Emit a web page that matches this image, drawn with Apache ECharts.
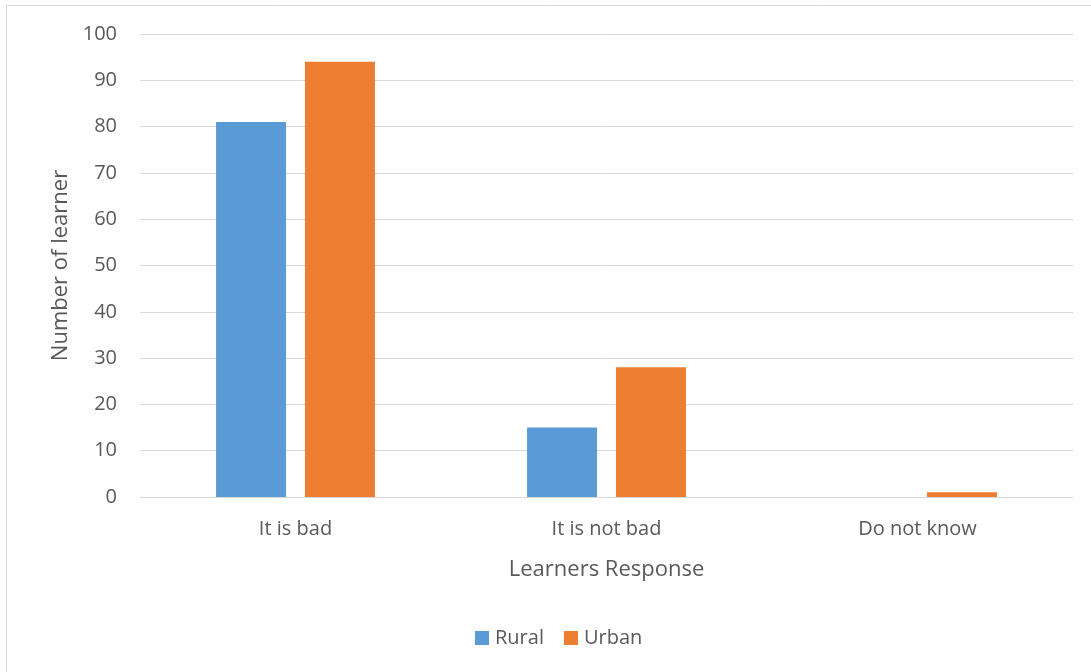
<!DOCTYPE html>
<html>
<head>
<meta charset="utf-8">
<script src="https://cdn.jsdelivr.net/npm/echarts@6/dist/echarts.min.js"></script>
<style>
  html, body { margin: 0; padding: 0; background: #ffffff; }
  #chart { width: 1091px; height: 672px; }
</style>
</head>
<body>
<div id="chart"></div>
<script>
// Learners' responses by school location
const categories = ['It is bad', 'It is not bad', 'Do not know'];
const rural = [81, 15, 0];
const urban = [94, 28, 1];
const yTicks = [0, 100, 10]; // min, max, interval

const textColor = '#595959';
const fontFamily = '"Open Sans", "Liberation Sans", sans-serif';

const chart = echarts.init(document.getElementById('chart'));
chart.setOption({
  animation: false,
  backgroundColor: '#ffffff',
  textStyle: { fontFamily: fontFamily, color: textColor },
  graphic: [{
    type: 'rect',
    shape: { x: 6.5, y: 5.5, width: 1200, height: 800 },
    style: { fill: 'none', stroke: '#d9d9d9', lineWidth: 1 },
    silent: true
  }],
  grid: { left: 140, right: 18, top: 34, bottom: 175, containLabel: false },
  legend: {
    data: ['Rural', 'Urban'],
    top: 623,
    left: 470,
    itemWidth: 14,
    itemHeight: 14,
    itemGap: 20,
    icon: 'rect',
    textStyle: { fontSize: 20, color: textColor, fontFamily: fontFamily, padding: [0, 0, 0, 1] }
  },
  xAxis: {
    type: 'category',
    data: categories,
    name: 'Learners Response',
    nameLocation: 'middle',
    nameGap: 62,
    nameTextStyle: { fontSize: 22, color: textColor, fontFamily: fontFamily },
    axisLine: { show: true, lineStyle: { color: '#d9d9d9', width: 1 } },
    axisTick: { show: false },
    axisLabel: { fontSize: 20, color: textColor, margin: 22, fontFamily: fontFamily }
  },
  yAxis: {
    type: 'value',
    min: yTicks[0],
    max: yTicks[1],
    interval: yTicks[2],
    name: 'Number of learner',
    nameLocation: 'middle',
    nameGap: 67,
    nameRotate: 90,
    nameTextStyle: { fontSize: 22, color: textColor, fontFamily: fontFamily },
    axisLine: { show: false },
    axisTick: { show: false },
    axisLabel: { fontSize: 20, color: textColor, margin: 23, fontFamily: fontFamily },
    splitLine: { lineStyle: { color: '#d9d9d9', width: 1 } }
  },
  series: [
    {
      name: 'Rural',
      type: 'bar',
      data: rural,
      barWidth: 70,
      barGap: '27%',
      itemStyle: { color: '#5b9bd5' }
    },
    {
      name: 'Urban',
      type: 'bar',
      data: urban,
      barWidth: 70,
      barGap: '27%',
      itemStyle: { color: '#ed7d31' }
    }
  ]
});
</script>
</body>
</html>
